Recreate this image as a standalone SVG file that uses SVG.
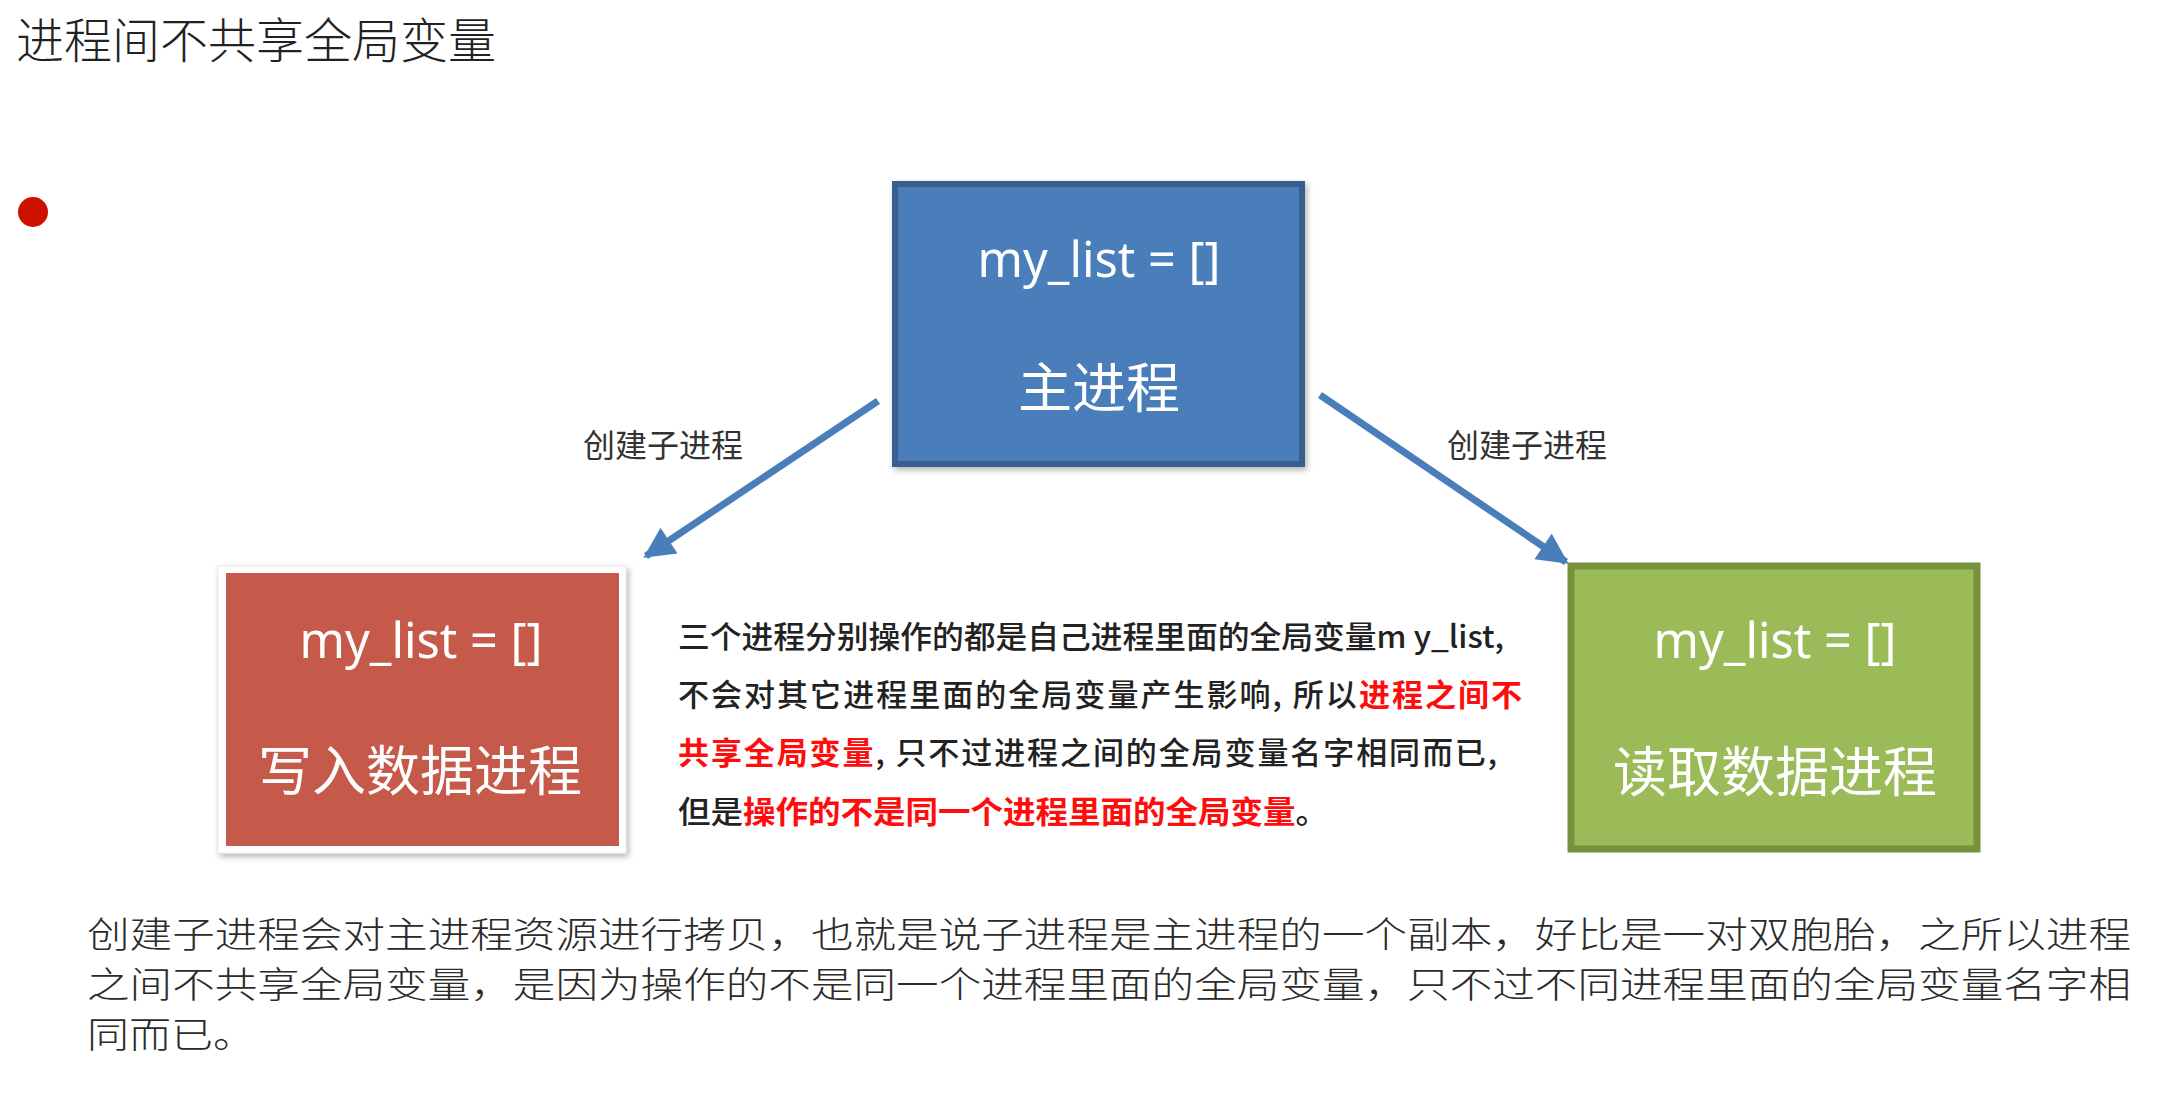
<svg xmlns="http://www.w3.org/2000/svg" width="2160" height="1102" viewBox="0 0 2160 1102">
<style>
.cjk{font-family:"Noto Sans CJK SC","Noto Sans",sans-serif}
.title{font-size:48px;fill:#222;font-weight:300}
.code{font-family:"Noto Sans","Liberation Sans",sans-serif;font-size:50px;fill:#fff;text-anchor:middle}
.big{font-size:54px;fill:#fff;text-anchor:middle}
.lbl{font-size:32px;fill:#333}
.mid{font-size:31px;fill:#222;font-weight:500}
.red{fill:#ff0d0d;font-weight:700}
.para{font-size:36px;fill:#2b2b2b;font-weight:300}
.conn{stroke:#4a7ebb;stroke-width:7;fill:none;marker-end:url(#ah)}
</style>
<defs>
<marker id="ah" viewBox="0 0 10 10" refX="9" refY="5" markerWidth="4.6" markerHeight="4.4" orient="auto" markerUnits="strokeWidth">
<path d="M0,0 L10,5 L0,10 Z" fill="#4a7ebb"/>
</marker>
<filter id="sh" x="-10%" y="-10%" width="120%" height="125%">
<feDropShadow dx="2" dy="3" stdDeviation="3" flood-color="#000" flood-opacity="0.3"/>
</filter>
</defs>
<rect width="2160" height="1102" fill="#fff"/>
<text class="cjk title" x="16" y="58" textLength="480" lengthAdjust="spacingAndGlyphs">进程间不共享全局变量</text>
<circle cx="33" cy="212" r="15" fill="#cc1100"/>

<g id="connectors">
<line class="conn" x1="878" y1="401" x2="646" y2="556"/>
<line class="conn" x1="1320" y1="395" x2="1566" y2="562"/>
<text class="cjk lbl" x="583" y="457">创建子进程</text>
<text class="cjk lbl" x="1447" y="457">创建子进程</text>
</g>

<g id="main-process">
<rect x="895" y="184" width="407" height="280" fill="#4a7ebb" stroke="#375e8e" stroke-width="6" filter="url(#sh)"/>
<text class="code" x="1099" y="277" textLength="243" lengthAdjust="spacingAndGlyphs">my_list = []</text>
<text class="cjk big" x="1099" y="408">主进程</text>
</g>

<g id="write-process">
<rect x="218" y="566" width="408" height="287" fill="#fff" stroke="#e8e8e8" stroke-width="1" filter="url(#sh)"/>
<rect x="226" y="573" width="393" height="273" fill="#c65a4a"/>
<text class="code" x="421" y="658" textLength="243" lengthAdjust="spacingAndGlyphs">my_list = []</text>
<text class="cjk big" x="420" y="791" font-size="55">写入数据进程</text>
</g>

<g id="read-process">
<rect x="1571" y="566" width="406" height="283" fill="#9bbb59" stroke="#76923c" stroke-width="7"/>
<text class="code" x="1775" y="658" textLength="243" lengthAdjust="spacingAndGlyphs">my_list = []</text>
<text class="cjk big" x="1775" y="792" font-size="55">读取数据进程</text>
</g>

<g id="note">
<text class="cjk mid" x="678" y="648" textLength="826" lengthAdjust="spacingAndGlyphs">三个进程分别操作的都是自己进程里面的全局变量m y_list,</text>
<text class="cjk mid" x="678" y="706" textLength="844" lengthAdjust="spacing">不会对其它进程里面的全局变量产生影响,  所以<tspan class="red">进程之间不</tspan></text>
<text class="cjk mid" x="678" y="764" textLength="819" lengthAdjust="spacing"><tspan class="red">共享全局变量</tspan>,  只不过进程之间的全局变量名字相同而已,</text>
<text class="cjk mid" x="678" y="823" textLength="650" lengthAdjust="spacingAndGlyphs">但是<tspan class="red">操作的不是同一个进程里面的全局变量</tspan>。</text>
</g>

<g id="paragraph">
<text class="cjk para" x="87" y="948" textLength="2044" lengthAdjust="spacingAndGlyphs">创建子进程会对主进程资源进行拷贝，也就是说子进程是主进程的一个副本，好比是一对双胞胎，之所以进程</text>
<text class="cjk para" x="87" y="998" textLength="2044" lengthAdjust="spacingAndGlyphs">之间不共享全局变量，是因为操作的不是同一个进程里面的全局变量，只不过不同进程里面的全局变量名字相</text>
<text class="cjk para" x="87" y="1048" textLength="168" lengthAdjust="spacingAndGlyphs">同而已。</text>
</g>
</svg>
